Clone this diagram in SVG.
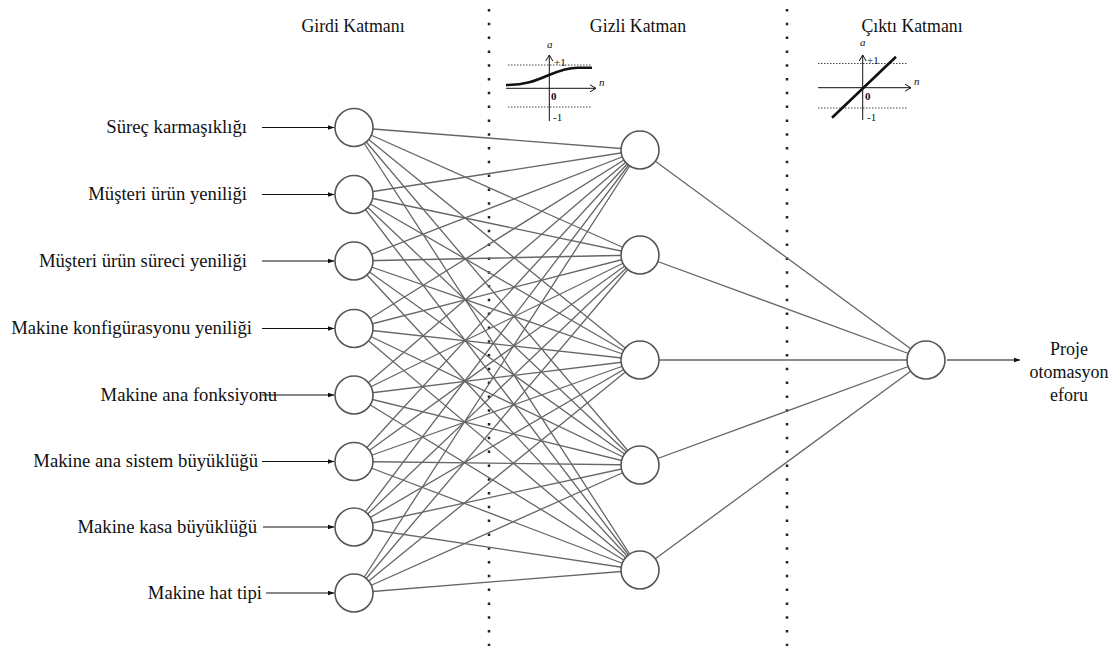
<svg xmlns="http://www.w3.org/2000/svg" width="1120" height="646" viewBox="0 0 1120 646">
<defs>
<style>
.node{fill:#fff;stroke:#555;stroke-width:1.6}
.w{stroke:#666;stroke-width:1.3;fill:none}
.arr{stroke:#111;stroke-width:1.2;fill:none;marker-end:url(#ah)}
.dotv{stroke:#222;stroke-width:2.5;stroke-dasharray:2.5 11.3;fill:none}
.ax{stroke:#111;stroke-width:1;fill:none}
.dl{stroke:#333;stroke-width:0.9;stroke-dasharray:1.5 1.5;fill:none}
</style>
<marker id="ah" markerWidth="7" markerHeight="6" refX="6.5" refY="3" orient="auto" markerUnits="userSpaceOnUse">
<path d="M0,0.5 L7,3 L0,5.5 Z" fill="#111"/>
</marker>
<marker id="axh" markerWidth="8" markerHeight="8" refX="6" refY="4" orient="auto" markerUnits="userSpaceOnUse">
<path d="M0,0.5 L6,4 L0,7.5" fill="none" stroke="#111" stroke-width="1"/>
</marker>
</defs>
<rect width="1120" height="646" fill="#fff"/>

<g id="separators">
<line class="dotv" x1="489" y1="9" x2="489" y2="646"/>
<line class="dotv" x1="787" y1="9" x2="787" y2="646"/>
</g>

<g id="headers" font-family="Liberation Serif, serif" font-size="17.8" fill="#111" text-anchor="middle">
<text x="353" y="32">Girdi Katmanı</text>
<text x="638" y="32">Gizli Katman</text>
<text x="912" y="32">Çıktı Katmanı</text>
</g>

<g id="sigmoid-graph">
<line class="dl" x1="508" y1="65" x2="592" y2="65"/>
<line class="dl" x1="508" y1="107" x2="592" y2="107"/>
<line class="ax" x1="506" y1="88.3" x2="596" y2="88.3" marker-end="url(#axh)"/>
<line class="ax" x1="549.3" y1="121" x2="549.3" y2="55" marker-end="url(#axh)"/>
<path d="M506,85 C525,85 535,81 549,75 C562,69.5 570,67.7 578,67.7 L592,67.7" stroke="#111" stroke-width="2.6" fill="none"/>
<g font-family="Liberation Serif, serif" font-size="11" fill="#111">
<text x="547" y="48" font-style="italic">a</text>
<text x="554" y="66">+1</text>
<text x="599" y="86" font-style="italic">n</text>
<text x="551" y="100" font-weight="bold">0</text>
<text x="553" y="121">-1</text>
</g>
</g>

<g id="linear-graph">
<line class="dl" x1="818" y1="63.5" x2="908" y2="63.5"/>
<line class="dl" x1="818" y1="108" x2="908" y2="108"/>
<line class="ax" x1="818" y1="87.7" x2="911" y2="87.7" marker-end="url(#axh)"/>
<line class="ax" x1="862.7" y1="120" x2="862.7" y2="55" marker-end="url(#axh)"/>
<line x1="832" y1="117.7" x2="896" y2="56.7" stroke="#111" stroke-width="2.6"/>
<g font-family="Liberation Serif, serif" font-size="11" fill="#111">
<text x="860" y="46" font-style="italic">a</text>
<text x="867" y="64">+1</text>
<text x="914" y="85" font-style="italic">n</text>
<text x="865" y="100" font-weight="bold">0</text>
<text x="867" y="121">-1</text>
</g>
</g>

<g id="connectors">
<g id="input-hidden">
<path class="w" d="M354,127.5L640,150M354,127.5L640,255M354,127.5L640,360M354,127.5L640,465M354,127.5L640,570"/>
<path class="w" d="M354,194.5L640,150M354,194.5L640,255M354,194.5L640,360M354,194.5L640,465M354,194.5L640,570"/>
<path class="w" d="M354,261L640,150M354,261L640,255M354,261L640,360M354,261L640,465M354,261L640,570"/>
<path class="w" d="M354,328.5L640,150M354,328.5L640,255M354,328.5L640,360M354,328.5L640,465M354,328.5L640,570"/>
<path class="w" d="M354,395L640,150M354,395L640,255M354,395L640,360M354,395L640,465M354,395L640,570"/>
<path class="w" d="M354,461.5L640,150M354,461.5L640,255M354,461.5L640,360M354,461.5L640,465M354,461.5L640,570"/>
<path class="w" d="M354,527L640,150M354,527L640,255M354,527L640,360M354,527L640,465M354,527L640,570"/>
<path class="w" d="M354,593L640,150M354,593L640,255M354,593L640,360M354,593L640,465M354,593L640,570"/>
</g>
<g id="hidden-output">
<path class="w" d="M640,150L926,360M640,255L926,360M640,360L926,360M640,465L926,360M640,570L926,360"/>
</g>
<g id="input-arrows">
<line class="arr" x1="262" y1="127.5" x2="334" y2="127.5"/>
<line class="arr" x1="262" y1="194.5" x2="334" y2="194.5"/>
<line class="arr" x1="262" y1="261" x2="334" y2="261"/>
<line class="arr" x1="262" y1="328.5" x2="334" y2="328.5"/>
<line class="arr" x1="262" y1="395" x2="334" y2="395"/>
<line class="arr" x1="262" y1="461.5" x2="334" y2="461.5"/>
<line class="arr" x1="263" y1="527" x2="334" y2="527"/>
<line class="arr" x1="266" y1="593" x2="334" y2="593"/>
</g>
<line id="output-arrow" class="arr" x1="947" y1="360" x2="1020" y2="360"/>
</g>

<g id="input-labels" font-family="Liberation Serif, serif" font-size="18.7" fill="#111" text-anchor="end">
<text x="247" y="133">Süreç karmaşıklığı</text>
<text x="247" y="200">Müşteri ürün yeniliği</text>
<text x="247" y="266.5">Müşteri ürün süreci yeniliği</text>
<text x="252" y="334">Makine konfigürasyonu yeniliği</text>
<text x="277" y="400.5">Makine ana fonksiyonu</text>
<text x="258" y="467">Makine ana sistem büyüklüğü</text>
<text x="257" y="532.5">Makine kasa büyüklüğü</text>
<text x="262" y="598.5">Makine hat tipi</text>
</g>

<g id="input-nodes">
<circle id="in1" class="node" cx="354" cy="127.5" r="19"/>
<circle id="in2" class="node" cx="354" cy="194.5" r="19"/>
<circle id="in3" class="node" cx="354" cy="261" r="19"/>
<circle id="in4" class="node" cx="354" cy="328.5" r="19"/>
<circle id="in5" class="node" cx="354" cy="395" r="19"/>
<circle id="in6" class="node" cx="354" cy="461.5" r="19"/>
<circle id="in7" class="node" cx="354" cy="527" r="19"/>
<circle id="in8" class="node" cx="354" cy="593" r="19"/>
</g>

<g id="hidden-nodes">
<circle id="h1" class="node" cx="640" cy="150" r="19"/>
<circle id="h2" class="node" cx="640" cy="255" r="19"/>
<circle id="h3" class="node" cx="640" cy="360" r="19"/>
<circle id="h4" class="node" cx="640" cy="465" r="19"/>
<circle id="h5" class="node" cx="640" cy="570" r="19"/>
</g>

<g id="output-node">
<circle id="out" class="node" cx="926" cy="360" r="19"/>
</g>

<g id="output-label" font-family="Liberation Serif, serif" font-size="18" fill="#111" text-anchor="middle">
<text x="1069" y="355">Proje</text>
<text x="1069" y="378">otomasyon</text>
<text x="1069" y="401">eforu</text>
</g>
</svg>
